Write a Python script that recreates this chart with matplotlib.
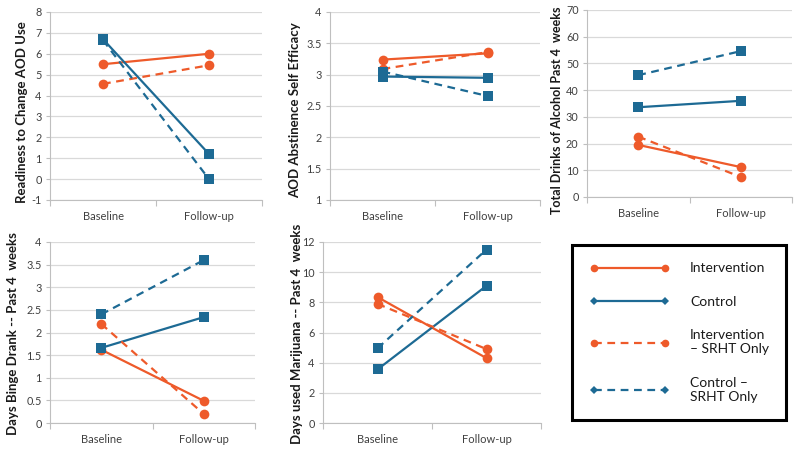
import matplotlib
matplotlib.use("Agg")
import matplotlib.pyplot as plt
from matplotlib.lines import Line2D
import numpy as np

plt.rcParams['font.family'] = ['Lato', 'DejaVu Sans']

categories = ["Baseline", "Follow-up"]
series_names = ["Intervention", "Control", "Intervention\n– SRHT Only", "Control –\nSRHT Only"]

# Panel values: [Intervention, Control, Intervention SRHT, Control SRHT]
readiness = [[5.5, 6.0], [6.7, 1.2], [4.56, 5.45], [6.65, 0.0]]
self_eff = [[3.24, 3.34], [2.97, 2.95], [3.09, 3.36], [3.05, 2.66]]
drinks = [[19.5, 11.2], [33.6, 36.0], [22.6, 7.5], [45.6, 54.6]]
binge = [[1.62, 0.49], [1.66, 2.34], [2.19, 0.2], [2.4, 3.6]]
marijuana = [[8.35, 4.3], [3.55, 9.1], [7.9, 4.9], [4.95, 11.5]]

panels = [
    ("Readiness to Change AOD Use", readiness, (-1, 8), 1),
    ("AOD Abstinence Self Efficacy", self_eff, (1, 4), 0.5),
    ("Total Drinks of Alcohol Past 4  weeks", drinks, (0, 70), 10),
    ("Days Binge Drank -- Past 4  weeks", binge, (0, 4), 0.5),
    ("Days used Marijuana -- Past 4  weeks", marijuana, (0, 12), 2),
]

W, H = 800, 451
# axes boxes in pixels: left, top, right, bottom
boxes = [(50, 12, 262, 200), (330, 12, 540, 200), (587, 10, 792, 197),
         (50, 242, 255, 423), (323, 242, 541, 423)]
label_x = [22, 295, 557, 13, 297]
label_y = [112, 110, 110, 334, 334]
label_size = [9.5, 9.5, 9.0, 9.5, 9.5]

ORANGE = '#ee5a2a'
BLUE = '#1d6a94'
colors = [ORANGE, BLUE, ORANGE, BLUE]
styles = ['-', '-', '--', '--']
markers = ['o', 's', 'o', 's']
GRID = '#d9d9d9'
TXT = '#404040'

fig = plt.figure(figsize=(W / 100, H / 100), dpi=100)

for (title, data, ylim, step), (l, t, r, b), lx, ly, fs in zip(panels, boxes, label_x, label_y, label_size):
    ax = fig.add_axes([l / W, 1 - b / H, (r - l) / W, (b - t) / H])
    x = list(range(len(categories)))
    for vals, c, ls, m in zip(data, colors, styles, markers):
        ax.plot(x, vals, color=c, linestyle=ls, linewidth=1.6, marker=m,
                markersize=7, markeredgewidth=0,
                dashes=(3.5, 2.5) if ls == '--' else (None, None),
                clip_on=False, zorder=3)
    ax.set_xlim(-0.5, 1.5)
    ax.set_ylim(*ylim)
    ticks = np.arange(ylim[0], ylim[1] + step / 2, step)
    ax.set_yticks(ticks)
    ax.set_yticklabels([('%g' % v) for v in ticks], fontsize=7.8, color=TXT)
    ax.set_xticks(x)
    ax.set_xticklabels(categories, fontsize=8, color=TXT)
    ax.set_xticks([-0.5, 0.5, 1.5], minor=True)
    ax.tick_params(axis='x', which='major', length=0, pad=8)
    ax.tick_params(axis='x', which='minor', length=4, color='#bfbfbf', width=0.8)
    ax.tick_params(axis='y', length=3, color='#bfbfbf', width=0.8, pad=3)
    ax.grid(axis='y', color=GRID, linewidth=0.9, zorder=0)
    ax.set_axisbelow(True)
    for s in ['top', 'right']:
        ax.spines[s].set_visible(False)
    for s in ['left', 'bottom']:
        ax.spines[s].set_color('#bfbfbf')
        ax.spines[s].set_linewidth(0.8)
    fig.text(lx / W, 1 - ly / H, title, rotation=90, ha='center', va='center',
             fontsize=fs, fontweight='bold', color='#1a1a1a')

handles = [Line2D([0], [0], color=c, linestyle=ls, linewidth=1.6,
                  marker=('o' if c == ORANGE else 'D'), markersize=(5.5 if c == ORANGE else 4),
                  markeredgewidth=0, dashes=(3.5, 2.5) if ls == '--' else (None, None))
           for c, ls in zip(colors, styles)]
leg = fig.legend(handles, series_names, loc='upper left',
                 bbox_to_anchor=(572 / W, 1 - 245 / H), bbox_transform=fig.transFigure,
                 fontsize=10, numpoints=2, handlelength=5.75, handletextpad=1.5,
                 labelspacing=1.55, borderpad=1.25, fancybox=False, framealpha=1,
                 edgecolor='black', borderaxespad=0)
leg.get_frame().set_linewidth(2.2)
for txt in leg.get_texts():
    txt.set_color('#1a1a1a')

fig.savefig('out.png', dpi=100)
